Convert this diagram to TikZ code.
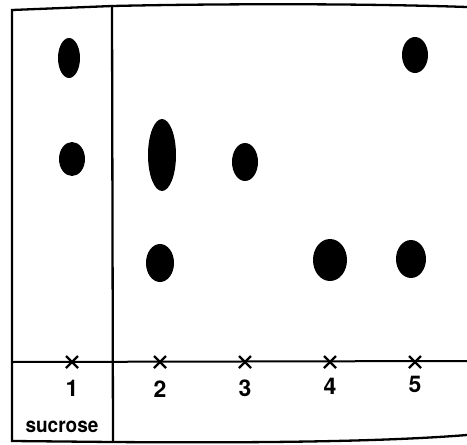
\documentclass[tikz,border=0pt]{standalone}
\usepackage{fontspec}
\setmainfont{TeX Gyre Heros}
\begin{document}
\begin{tikzpicture}[x=1pt,y=-1pt,
  frame/.style={line width=2.3pt,black},
  spot/.style={fill=black},
  lanelabel/.style={font=\bfseries\fontsize{23}{23}\selectfont,inner sep=0pt},
  xmark/.style={line width=2.3pt}]
\useasboundingbox (0,0) rectangle (467,445);
% frame
\draw[frame] (467,7) .. controls (350,3) and (200,4) .. (112,6) -- (12,10) -- (12,441) -- (112,442) .. controls (250,443) and (380,442) .. (467,435);
\draw[frame] (112,6) -- (113,442);
% baseline
\draw[frame, line width=2pt] (12,362) -- (467,361);
% crosses
\foreach \x in {72,160,245,330,415}{
  \draw[xmark] (\x-6,356) -- (\x+6,368) (\x-6,368) -- (\x+6,356);
}
% labels
\node[lanelabel] (l1) at (72,388) {1};
\node[lanelabel] (l2) at (160,389) {2};
\node[lanelabel] (l3) at (245,388) {3};
\node[lanelabel] (l4) at (330,386) {4};
\node[lanelabel] (l5) at (415,384) {5};
\node[font=\bfseries\fontsize{19}{19}\selectfont,inner sep=0pt,xscale=1.0,yscale=1.1] (suc) at (62,427) {sucrose};
% spots
\fill[spot] (69,58) ellipse [x radius=11, y radius=20];
\fill[spot] (415,55) ellipse [x radius=13, y radius=18];
\fill[spot] (72,159) ellipse [x radius=13, y radius=17];
\fill[spot] (162,155) ellipse [x radius=14, y radius=36];
\fill[spot] (245,162) ellipse [x radius=13, y radius=19];
\fill[spot] (160,263) ellipse [x radius=14, y radius=19];
\fill[spot] (330,260) ellipse [x radius=17, y radius=21];
\fill[spot] (411,259) ellipse [x radius=15, y radius=19];
\end{tikzpicture}
\end{document}
